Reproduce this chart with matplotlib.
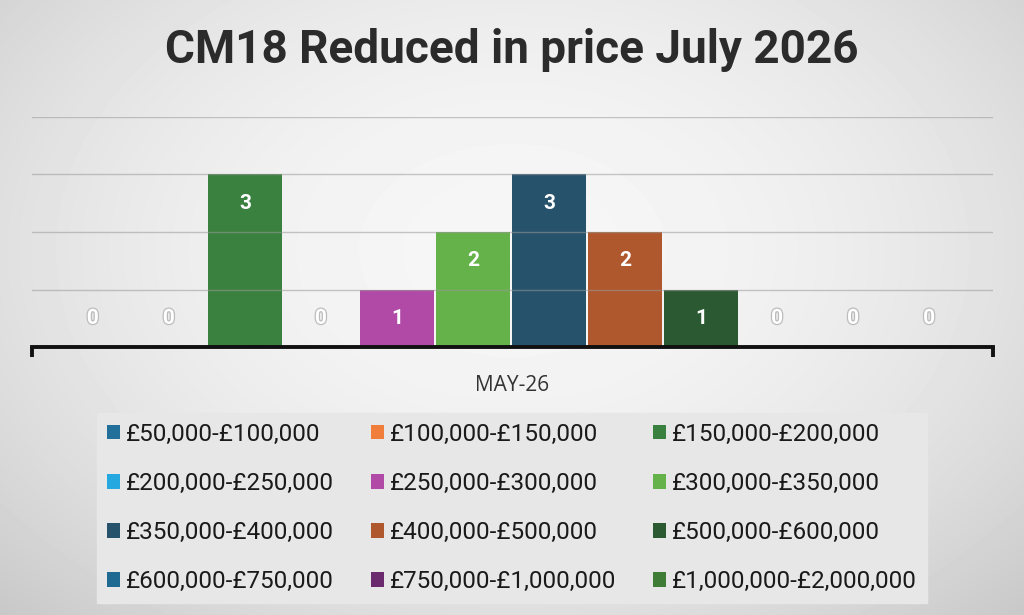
import matplotlib
matplotlib.use("agg")
import matplotlib.pyplot as plt
import matplotlib.patheffects as pe
import numpy as np

title = "CM18 Reduced in price July 2026"
category = "MAY-26"

ranges = ["£50,000-£100,000", "£100,000-£150,000", "£150,000-£200,000",
          "£200,000-£250,000", "£250,000-£300,000", "£300,000-£350,000",
          "£350,000-£400,000", "£400,000-£500,000", "£500,000-£600,000",
          "£600,000-£750,000", "£750,000-£1,000,000", "£1,000,000-£2,000,000"]
counts = [0, 0, 3, 0, 1, 2, 3, 2, 1, 0, 0, 0]
colors = ["#22709a", "#f07d3a", "#3a803f", "#25a8e0", "#b04aa6", "#66b24a",
          "#26526b", "#b0582d", "#2b5a32", "#1f6a92", "#6b2a6e", "#3f7d36"]

font = ["Roboto", "DejaVu Sans"]

fig = plt.figure(figsize=(10.24, 6.15), dpi=100)

# soft grey background, lighter in the middle
bg = fig.add_axes([0, 0, 1, 1], zorder=-10)
yy, xx = np.mgrid[0:615, 0:1024]
d = np.sqrt(((xx - 512) / 620.0) ** 2 + ((yy - 250) / 430.0) ** 2)
shade = 0.965 - 0.13 * np.clip(d, 0, 1.3) ** 2
bg.imshow(shade, cmap="gray", vmin=0, vmax=1, aspect="auto")
bg.axis("off")

ax = fig.add_axes([32 / 1024, 1 - 347 / 615, 961 / 1024, 230 / 615])
ax.patch.set_alpha(0)

x = np.arange(len(counts))
bars = ax.bar(x, counts, width=0.97, color=colors, zorder=2)
for i, b in enumerate(bars):
    b.set_label(ranges[i])

ax.set_xlim(-0.80, 11.84)
ax.set_ylim(0, 4)
ax.set_yticks([1, 2, 3, 4])
ax.yaxis.grid(True, color="#9a9a9a", linewidth=1.0, alpha=0.55, zorder=3)
ax.set_axisbelow(False)
ax.tick_params(axis="y", length=0, labelleft=False)
for s in ["top", "left", "right"]:
    ax.spines[s].set_visible(False)
ax.spines["bottom"].set_linewidth(2.8)
ax.spines["bottom"].set_color("#111111")
ax.spines["bottom"].set_zorder(4)

ax.set_xticks([5.52])
ax.set_xticklabels([category], fontsize=15, color="#333333", family=["Open Sans", "DejaVu Sans"])
ax.tick_params(axis="x", length=0, pad=20)
ax.set_xticks([-0.80, 11.84], minor=True)
ax.tick_params(axis="x", which="minor", length=7, width=2.8, color="#111111", direction="out")

for i, v in enumerate(counts):
    ypos = v - 0.5 if v >= 1 else 0.5
    if v > 0:
        ax.text(i, ypos, str(v), ha="center", va="center", color="white",
                fontsize=15, fontweight="bold", family=font, zorder=5)
    else:
        ax.text(i, ypos, str(v), ha="center", va="center", color="white",
                fontsize=15, fontweight="bold", family=font, zorder=5,
                path_effects=[pe.withStroke(linewidth=1.8, foreground="#bcbcbc")])

fig.text(0.5, 1 - 50 / 615, title, ha="center", va="center", fontsize=33,
         fontweight="bold", color="#2b2b2b", family=font)

order = [0, 3, 6, 9, 1, 4, 7, 10, 2, 5, 8, 11]
handles = [bars[i] for i in order]
labels = [ranges[i] for i in order]
leg = fig.legend(handles, labels, ncol=3, loc="center",
                 bbox_to_anchor=(512 / 1024, 1 - 508 / 615),
                 prop={"family": font, "size": 17.5},
                 frameon=True, facecolor="#e7e7e7", edgecolor="#e7e7e7",
                 fancybox=False, framealpha=1.0,
                 handlelength=0.55, handleheight=0.55, handletextpad=0.25,
                 columnspacing=1.5, labelspacing=1.08, borderpad=0.4)
for t in leg.get_texts():
    t.set_color("#1a1a1a")

fig.savefig("out.png", dpi=100)
plt.close()
